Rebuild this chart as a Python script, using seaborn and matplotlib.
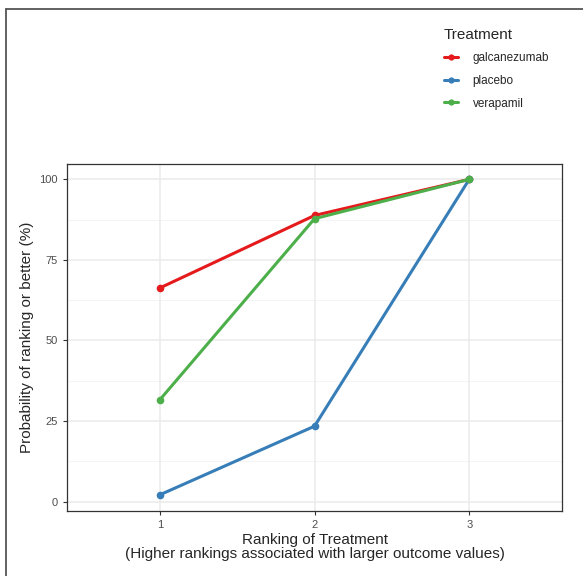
import pandas as pd
import matplotlib.pyplot as plt
from matplotlib.lines import Line2D
import seaborn as sns

# Ranking data (cumulative probability of ranking or better, %)
ranks = [1, 2, 3]
galcanezumab = [66.3, 88.8, 100.0]
placebo = [2.1, 23.4, 100.0]
verapamil = [31.6, 87.8, 100.0]
treatments = ["galcanezumab", "placebo", "verapamil"]
colors = ["#E41A1C", "#377EB8", "#4DAF4A"]
y_ticks = [0, 25, 50, 75, 100]

df = pd.DataFrame({
    "rank": ranks * 3,
    "prob": galcanezumab + placebo + verapamil,
    "Treatment": [t for t in treatments for _ in ranks],
})

sns.set_style("white")
plt.rcParams["font.family"] = ["Liberation Sans", "DejaVu Sans"]

fig = plt.figure(figsize=(5.83, 5.76), dpi=100)
ax = fig.add_axes([0.115, 0.113, 0.849, 0.603])

# grid like theme_bw
for y in [12.5, 37.5, 62.5, 87.5]:
    ax.axhline(y, color="#F2F2F2", lw=0.6, zorder=0)
for y in y_ticks:
    ax.axhline(y, color="#EBEBEB", lw=1.1, zorder=0)
for x in ranks:
    ax.axvline(x, color="#EBEBEB", lw=1.1, zorder=0)

sns.lineplot(data=df, x="rank", y="prob", hue="Treatment", hue_order=treatments,
             palette=colors, marker="o", markersize=5.5, markeredgewidth=0,
             linewidth=2.2, legend=False, ax=ax, zorder=3)

ax.set_xlim(0.4, 3.6)
ax.set_ylim(-2.9, 104.9)
ax.set_xticks(ranks)
ax.set_yticks(y_ticks)
ax.tick_params(axis="both", colors="#333333", labelcolor="#4D4D4D", labelsize=8,
               length=3, width=0.8, direction="out", bottom=True, left=True)
for s in ax.spines.values():
    s.set_color("#333333")
    s.set_linewidth(0.9)

ax.set_xlabel("Ranking of Treatment\n(Higher rankings associated with larger outcome values)",
              fontsize=11, labelpad=2, linespacing=1.0)
ax.set_ylabel("Probability of ranking or better (%)", fontsize=11, labelpad=4)

handles = [Line2D([0], [0], color=c, lw=2.2, marker="o", markersize=4.5, markeredgewidth=0)
           for c in colors]
leg = fig.legend(handles, treatments, title="Treatment", loc="upper left",
                 bbox_to_anchor=(433 / 583, 1 - 17 / 576), frameon=False,
                 fontsize=8.5, title_fontsize=11, handlelength=1.25,
                 handletextpad=1.2, labelspacing=0.9, alignment="left")

# partial outer frame of original screenshot
fig.add_artist(Line2D([6 / 583, 1], [1 - 8.5 / 576, 1 - 8.5 / 576], color="#555555", lw=1.3,
                      transform=fig.transFigure))
fig.add_artist(Line2D([6 / 583, 6 / 583], [0, 1 - 8.5 / 576], color="#555555", lw=1.3,
                      transform=fig.transFigure))

fig.savefig("out.png", dpi=100)
